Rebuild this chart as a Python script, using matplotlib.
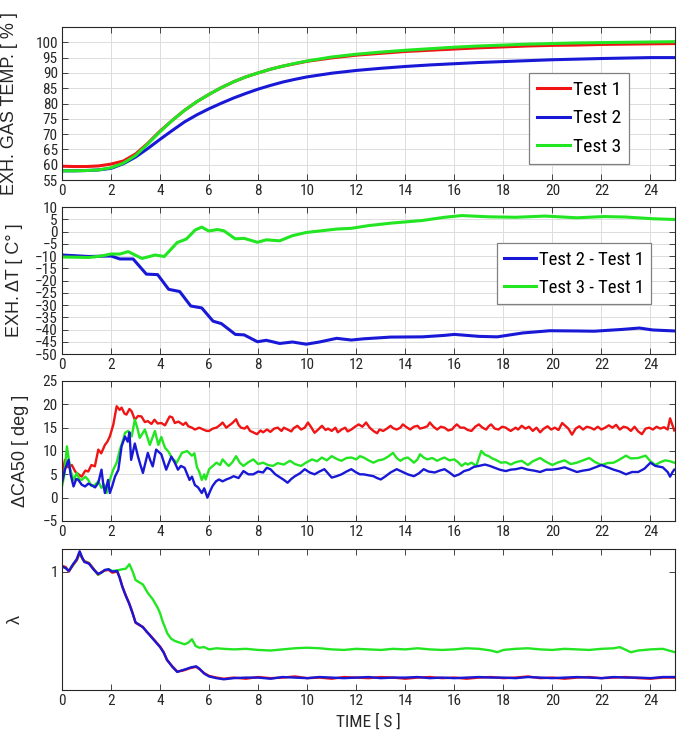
import numpy as np
import matplotlib
matplotlib.use('Agg')
import matplotlib.pyplot as plt

plt.rcParams['font.family'] = ['Liberation Sans Narrow', 'Roboto Condensed', 'Liberation Sans', 'DejaVu Sans']

# ---------------- data ----------------
x_ticks = [0, 2, 4, 6, 8, 10, 12, 14, 16, 18, 20, 22, 24]

# Panel 1: exhaust gas temperature [%]
t_temp = [0, 0.5, 1, 1.5, 2, 2.5, 3, 3.5, 4, 4.5, 5, 5.5, 6, 6.5, 7, 7.5, 8, 8.5, 9, 9.5,
          10, 11, 12, 13, 14, 15, 16, 17, 18, 19, 20, 21, 22, 23, 24, 25]
temp_test1 = [59.5, 59.4, 59.4, 59.6, 60.2, 61.2, 63.5, 67.0, 71.0, 74.5, 77.8, 80.6, 83.0, 85.2, 87.1, 88.7,
              90.0, 91.2, 92.2, 93.0, 93.8, 94.9, 95.8, 96.4, 97.0, 97.4, 97.8, 98.2, 98.5, 98.8, 99.0, 99.1,
              99.3, 99.4, 99.5, 99.6]
temp_test2 = [58.0, 58.0, 58.1, 58.3, 58.8, 60.3, 62.5, 65.3, 68.3, 71.2, 74.0, 76.3, 78.3, 80.1, 81.8, 83.3,
              84.7, 85.9, 87.0, 87.9, 88.7, 89.9, 90.8, 91.5, 92.1, 92.6, 93.0, 93.4, 93.7, 94.0, 94.3, 94.5,
              94.7, 94.85, 95.0, 95.0]
temp_test3 = [58.0, 58.0, 58.1, 58.3, 59.0, 60.5, 63.0, 66.8, 70.8, 74.5, 77.8, 80.6, 83.0, 85.2, 87.1, 88.7,
              90.0, 91.2, 92.2, 93.1, 93.9, 95.2, 96.1, 96.8, 97.4, 97.9, 98.4, 98.8, 99.1, 99.4, 99.6, 99.8,
              99.9, 100.0, 100.1, 100.2]

# Panel 2: exhaust delta T [C]
t_dT2 = [0, 1.1, 2.0, 2.36, 2.9, 3.44, 3.9, 4.35, 4.8, 5.25, 5.7, 6.16, 6.5, 7.07, 7.43, 7.97, 8.33, 8.88,
         9.4, 9.96, 10.5, 11.2, 11.8, 12.3, 13.4, 14.7, 15.6, 16.0, 17.0, 17.75, 18.8, 19.9, 21.0, 21.7,
         22.8, 23.55, 24.1, 25.0]
dT_2minus1 = [-9.6, -10.2, -10.0, -11.2, -11.2, -17.4, -17.6, -23.6, -24.5, -30.4, -31.2, -36.6, -37.6,
              -42.0, -42.2, -45.0, -44.4, -45.7, -45.1, -46.0, -45.1, -43.6, -44.3, -43.8, -43.1, -43.0,
              -42.4, -42.0, -42.8, -43.0, -41.4, -40.5, -40.6, -40.7, -40.0, -39.4, -40.2, -40.6]
t_dT3 = [0, 1.1, 1.6, 2.0, 2.36, 2.7, 3.26, 3.8, 4.17, 4.7, 5.07, 5.43, 5.7, 5.98, 6.34, 6.6, 7.07, 7.43,
         7.97, 8.33, 8.88, 9.4, 9.96, 10.5, 11.2, 11.8, 12.5, 13.4, 14.7, 15.6, 16.3, 17.4, 18.5, 19.7,
         21.0, 22.1, 23.0, 24.1, 25.0]
dT_3minus1 = [-10.4, -10.6, -10.0, -9.2, -9.2, -8.2, -11.0, -9.6, -10.2, -4.5, -3.1, 0.6, 1.8, 0.2, 0.8,
              0.3, -3.0, -2.8, -4.4, -3.4, -3.8, -1.7, -0.4, 0.2, 1.0, 1.3, 2.4, 3.4, 4.5, 5.8, 6.5, 6.0,
              5.8, 6.3, 5.6, 6.1, 5.9, 5.2, 4.9]

# Panel 3: delta CA50 [deg], (time, value) readings
ca50_test1 = [(0, 4.5), (0.12, 8.1), (0.25, 6.5), (0.4, 7.0), (0.55, 5.5), (0.8, 4.5), (0.95, 5.8), (1.07, 5.6),
              (1.2, 7.0), (1.34, 6.7), (1.48, 10.3), (1.6, 9.5), (1.75, 11.3), (1.85, 12.0), (1.95, 13.1),
              (2.09, 15.6), (2.23, 19.6), (2.35, 18.8), (2.43, 19.3), (2.55, 18.0), (2.63, 17.8), (2.75, 19.0),
              (2.84, 18.5), (2.97, 16.7), (3.1, 17.5), (3.24, 17.4), (3.38, 16.2), (3.5, 16.4), (3.65, 15.8),
              (3.77, 16.7), (3.9, 15.9), (4.05, 16.0), (4.2, 15.5), (4.39, 17.4), (4.5, 17.2), (4.6, 16.0),
              (4.75, 16.3), (4.94, 15.6), (5.05, 16.1), (5.15, 15.3), (5.3, 15.0), (5.42, 14.6), (5.6, 15.0),
              (5.76, 14.6), (5.9, 14.3), (6.0, 14.3), (6.15, 14.8), (6.3, 15.0), (6.45, 15.6), (6.55, 16.1),
              (6.7, 15.0), (6.8, 15.4), (6.95, 16.0), (7.1, 16.8), (7.2, 15.6), (7.3, 15.0), (7.45, 14.8),
              (7.55, 15.3), (7.67, 14.3), (7.8, 14.0), (7.95, 13.6), (8.1, 14.4), (8.2, 14.0), (8.36, 14.6),
              (8.5, 14.1), (8.65, 14.8), (8.8, 15.0), (8.95, 14.3), (9.05, 15.0), (9.2, 14.6), (9.35, 14.2),
              (9.45, 14.9), (9.6, 15.4), (9.75, 14.6), (9.9, 15.0), (10.03, 16.1), (10.15, 15.2), (10.3, 13.9),
              (10.45, 14.6), (10.6, 15.4), (10.75, 14.5), (10.85, 14.8), (11.0, 14.3), (11.15, 15.0),
              (11.25, 14.0), (11.4, 14.6), (11.55, 15.0), (11.65, 14.2), (11.8, 14.6), (11.95, 15.2),
              (12.1, 15.7), (12.25, 15.2), (12.4, 16.1), (12.55, 15.0), (12.7, 14.3), (12.85, 13.8),
              (12.95, 14.6), (13.1, 14.3), (13.25, 14.8), (13.4, 15.4), (13.5, 14.9), (13.65, 14.6),
              (13.8, 15.0), (13.9, 15.7), (14.05, 15.1), (14.2, 14.6), (14.35, 15.2), (14.5, 15.4),
              (14.6, 14.8), (14.75, 15.0), (14.9, 15.3), (15.0, 16.1), (15.15, 15.2), (15.3, 14.6),
              (15.45, 15.2), (15.6, 15.0), (15.75, 14.4), (15.9, 14.6), (16.0, 15.2), (16.1, 15.7),
              (16.25, 15.0), (16.4, 15.0), (16.55, 14.5), (16.7, 14.3), (16.85, 15.2), (17.0, 15.7),
              (17.15, 15.0), (17.3, 14.6), (17.4, 15.3), (17.5, 15.7), (17.65, 14.8), (17.8, 14.6),
              (17.95, 15.2), (18.1, 15.0), (18.2, 14.6), (18.3, 14.3), (18.5, 15.0), (18.6, 14.6),
              (18.75, 15.4), (18.9, 14.8), (19.05, 15.2), (19.2, 14.3), (19.35, 15.0), (19.5, 14.0),
              (19.65, 14.8), (19.8, 15.3), (19.95, 14.6), (20.1, 15.0), (20.25, 14.5), (20.4, 16.0),
              (20.5, 15.5), (20.65, 14.8), (20.8, 13.5), (20.95, 14.8), (21.1, 15.3), (21.25, 14.6),
              (21.4, 15.2), (21.55, 15.0), (21.7, 14.6), (21.85, 15.2), (22.0, 14.6), (22.15, 15.0),
              (22.3, 15.5), (22.45, 15.0), (22.6, 15.6), (22.75, 14.6), (22.9, 15.2), (23.05, 15.0),
              (23.2, 14.3), (23.35, 15.2), (23.5, 14.2), (23.65, 13.6), (23.8, 14.8), (23.95, 15.0),
              (24.1, 14.6), (24.25, 15.2), (24.4, 14.8), (24.55, 15.1), (24.7, 14.6), (24.8, 17.0),
              (24.9, 15.5), (24.97, 14.4)]
ca50_test2 = [(0, 3.2), (0.12, 6.0), (0.27, 8.1), (0.35, 5.0), (0.47, 2.4), (0.58, 4.0), (0.67, 3.8), (0.8, 2.8),
              (0.94, 2.4), (1.07, 3.0), (1.2, 2.7), (1.35, 2.2), (1.48, 3.2), (1.61, 6.0), (1.68, 3.0),
              (1.75, 1.0), (1.88, 3.8), (1.95, 1.0), (2.05, 2.5), (2.16, 4.5), (2.3, 6.0), (2.43, 11.0),
              (2.57, 13.1), (2.68, 12.0), (2.75, 14.0), (2.82, 8.1), (2.97, 11.6), (3.1, 8.8), (3.2, 7.0),
              (3.3, 5.3), (3.5, 9.6), (3.6, 8.0), (3.7, 6.7), (3.84, 10.3), (4.05, 9.3), (4.25, 6.0),
              (4.46, 8.8), (4.6, 7.5), (4.73, 6.0), (4.85, 6.8), (5.0, 6.4), (5.2, 3.8), (5.3, 4.5),
              (5.42, 2.7), (5.55, 2.2), (5.7, 1.0), (5.8, 2.0), (5.93, 0.0), (6.05, 1.5), (6.14, 2.5),
              (6.28, 3.5), (6.4, 3.9), (6.55, 3.5), (6.7, 3.9), (6.85, 4.2), (7.0, 4.6), (7.2, 4.2),
              (7.4, 5.7), (7.6, 5.0), (7.8, 5.0), (8.0, 5.6), (8.2, 5.4), (8.35, 6.4), (8.5, 6.1),
              (8.7, 5.0), (8.9, 4.3), (9.05, 3.8), (9.2, 3.2), (9.35, 4.0), (9.5, 4.6), (9.7, 5.2),
              (9.9, 6.1), (10.1, 5.4), (10.3, 5.0), (10.5, 5.6), (10.7, 6.1), (10.85, 5.2), (11.0, 4.3),
              (11.2, 4.6), (11.4, 5.0), (11.6, 5.6), (11.8, 6.1), (12.0, 5.4), (12.15, 5.0), (12.3, 5.0),
              (12.5, 4.8), (12.7, 4.6), (12.85, 4.2), (13.0, 3.9), (13.2, 4.6), (13.4, 5.4), (13.65, 6.1),
              (13.85, 5.6), (14.1, 5.0), (14.35, 4.6), (14.55, 5.2), (14.75, 6.1), (14.95, 5.6),
              (15.2, 5.4), (15.4, 5.8), (15.6, 6.1), (15.8, 5.4), (16.0, 4.6), (16.2, 5.0), (16.4, 5.7),
              (16.6, 6.0), (16.8, 6.6), (17.0, 6.8), (17.25, 7.1), (17.45, 6.8), (17.65, 6.4), (17.85, 6.0),
              (18.1, 5.7), (18.3, 6.0), (18.5, 6.1), (18.75, 6.4), (19.0, 6.0), (19.25, 5.8), (19.5, 5.5),
              (19.75, 6.0), (20.0, 6.0), (20.25, 6.2), (20.5, 6.5), (20.75, 6.0), (21.0, 5.5), (21.25, 5.8),
              (21.5, 6.0), (21.75, 6.5), (22.0, 7.0), (22.25, 6.5), (22.5, 6.0), (22.75, 5.6), (23.0, 5.0),
              (23.25, 5.5), (23.5, 5.5), (23.75, 6.2), (24.0, 7.5), (24.2, 6.8), (24.5, 6.5), (24.7, 5.5),
              (24.8, 4.5), (24.9, 5.5), (24.97, 6.0)]
ca50_test3 = [(0, 2.4), (0.1, 5.0), (0.2, 11.0), (0.27, 8.5), (0.34, 6.0), (0.47, 3.8), (0.61, 5.3), (0.7, 4.0),
              (0.8, 3.8), (0.95, 4.5), (1.07, 3.8), (1.2, 2.5), (1.34, 2.7), (1.48, 3.5), (1.61, 2.1),
              (1.72, 2.8), (1.82, 1.0), (1.95, 3.8), (2.09, 6.0), (2.23, 7.5), (2.36, 10.3), (2.5, 12.5),
              (2.57, 13.9), (2.7, 14.3), (2.84, 13.1), (2.97, 16.7), (3.07, 15.0), (3.17, 12.8), (3.38, 14.6),
              (3.48, 13.0), (3.58, 11.3), (3.79, 14.3), (3.93, 11.3), (4.05, 13.0), (4.2, 10.7), (4.35, 9.8),
              (4.48, 8.5), (4.68, 7.5), (4.89, 9.6), (5.1, 10.0), (5.3, 9.0), (5.4, 9.5), (5.5, 6.6),
              (5.6, 5.5), (5.7, 3.8), (5.8, 5.0), (5.86, 3.9), (6.0, 6.1), (6.15, 6.8), (6.3, 7.5),
              (6.45, 7.0), (6.55, 8.2), (6.7, 7.3), (6.8, 6.8), (6.95, 7.6), (7.1, 8.9), (7.25, 7.5),
              (7.4, 6.8), (7.6, 7.6), (7.8, 8.2), (8.0, 7.2), (8.2, 7.5), (8.4, 7.0), (8.6, 6.8), (8.8, 7.4),
              (9.05, 7.1), (9.2, 7.6), (9.3, 7.9), (9.5, 7.2), (9.75, 6.8), (9.95, 7.5), (10.2, 8.2),
              (10.4, 7.8), (10.6, 8.6), (10.8, 8.0), (11.0, 8.9), (11.2, 8.3), (11.4, 7.9), (11.6, 8.5),
              (11.8, 8.6), (12.0, 8.2), (12.15, 8.9), (12.3, 8.6), (12.5, 8.0), (12.7, 7.5), (12.9, 8.0),
              (13.1, 8.2), (13.3, 8.8), (13.5, 9.6), (13.65, 8.5), (13.8, 7.9), (13.95, 8.4), (14.1, 8.6),
              (14.25, 8.0), (14.35, 7.5), (14.5, 8.2), (14.6, 9.3), (14.75, 8.6), (14.9, 8.2), (15.1, 8.5),
              (15.3, 7.9), (15.45, 8.3), (15.6, 8.6), (15.8, 8.0), (16.0, 8.2), (16.15, 7.6), (16.3, 6.8),
              (16.45, 7.4), (16.55, 7.1), (16.7, 7.5), (16.9, 6.8), (17.0, 8.5), (17.1, 10.0), (17.25, 9.2),
              (17.4, 8.9), (17.55, 8.4), (17.65, 8.2), (17.8, 7.8), (17.9, 7.5), (18.1, 7.6), (18.3, 7.1),
              (18.5, 7.6), (18.75, 7.9), (19.0, 7.0), (19.2, 7.8), (19.5, 8.5), (19.7, 7.8), (20.0, 7.0),
              (20.2, 7.5), (20.5, 8.0), (20.75, 7.2), (21.0, 7.5), (21.25, 8.0), (21.5, 8.5), (21.75, 7.6),
              (22.0, 7.0), (22.25, 7.4), (22.5, 7.5), (22.75, 8.2), (23.0, 9.0), (23.2, 8.4), (23.5, 8.5),
              (23.8, 9.0), (24.0, 7.8), (24.2, 7.0), (24.4, 7.6), (24.6, 8.0), (24.8, 7.8), (24.97, 7.5)]

# Panel 4: lambda, (time, value) readings
lam_test1 = [(0, 1.010), (0.15, 1.008), (0.28, 1.000), (0.45, 1.012), (0.6, 1.020), (0.72, 1.034), (0.82, 1.024),
             (0.91, 1.018), (1.1, 1.015), (1.3, 1.004), (1.47, 0.995), (1.6, 0.999), (1.75, 1.002), (1.9, 1.003),
             (2.05, 0.998), (2.25, 1.000), (2.35, 0.990), (2.46, 0.974), (2.6, 0.958), (2.74, 0.944),
             (2.87, 0.928), (3.0, 0.909), (3.15, 0.905), (3.3, 0.902), (3.45, 0.893), (3.58, 0.888),
             (3.8, 0.877), (4.0, 0.867), (4.15, 0.857), (4.28, 0.843), (4.5, 0.832), (4.7, 0.823),
             (4.9, 0.824), (5.05, 0.826), (5.25, 0.829), (5.47, 0.831), (5.6, 0.827), (5.8, 0.820),
             (6.0, 0.815), (6.3, 0.812), (6.6, 0.810), (7.0, 0.812), (7.5, 0.810), (8.0, 0.813), (8.5, 0.811),
             (9.0, 0.812), (9.5, 0.814), (10.0, 0.811), (10.5, 0.812), (11.0, 0.810), (11.5, 0.813),
             (12.0, 0.812), (12.5, 0.811), (13.0, 0.813), (13.5, 0.812), (14.0, 0.810), (14.5, 0.812),
             (15.0, 0.813), (15.5, 0.811), (16.0, 0.812), (16.5, 0.810), (17.0, 0.812), (17.5, 0.813),
             (18.0, 0.811), (18.5, 0.812), (19.0, 0.814), (19.5, 0.811), (20.0, 0.812), (20.5, 0.810),
             (21.0, 0.812), (21.5, 0.813), (22.0, 0.811), (22.5, 0.812), (23.0, 0.813), (23.5, 0.811),
             (24.0, 0.810), (24.5, 0.812), (25.0, 0.812)]
lam_test2 = [(0, 1.009), (0.15, 1.006), (0.28, 1.001), (0.45, 1.013), (0.6, 1.022), (0.72, 1.036), (0.82, 1.025),
             (0.91, 1.017), (1.1, 1.014), (1.3, 1.003), (1.47, 0.996), (1.6, 0.998), (1.75, 1.003), (1.9, 1.004),
             (2.05, 1.000), (2.25, 1.001), (2.35, 0.989), (2.46, 0.973), (2.6, 0.957), (2.74, 0.943),
             (2.87, 0.927), (3.0, 0.910), (3.15, 0.906), (3.3, 0.901), (3.45, 0.894), (3.58, 0.887),
             (3.8, 0.876), (4.0, 0.866), (4.15, 0.856), (4.28, 0.844), (4.5, 0.831), (4.7, 0.822),
             (4.9, 0.825), (5.05, 0.827), (5.25, 0.830), (5.47, 0.832), (5.6, 0.828), (5.8, 0.819),
             (6.0, 0.814), (6.3, 0.811), (6.6, 0.809), (7.0, 0.811), (7.5, 0.812), (8.0, 0.812), (8.5, 0.810),
             (9.0, 0.813), (9.5, 0.812), (10.0, 0.811), (10.5, 0.813), (11.0, 0.812), (11.5, 0.811),
             (12.0, 0.812), (12.5, 0.813), (13.0, 0.811), (13.5, 0.812), (14.0, 0.812), (14.5, 0.813),
             (15.0, 0.811), (15.5, 0.812), (16.0, 0.811), (16.5, 0.812), (17.0, 0.813), (17.5, 0.812),
             (18.0, 0.812), (18.5, 0.811), (19.0, 0.813), (19.5, 0.812), (20.0, 0.811), (20.5, 0.812),
             (21.0, 0.813), (21.5, 0.812), (22.0, 0.811), (22.5, 0.813), (23.0, 0.812), (23.5, 0.812),
             (24.0, 0.811), (24.5, 0.813), (25.0, 0.813)]
lam_test3 = [(0, 1.010), (0.15, 1.007), (0.28, 1.001), (0.45, 1.011), (0.6, 1.020), (0.72, 1.032), (0.82, 1.024),
             (0.91, 1.019), (1.1, 1.015), (1.3, 1.004), (1.47, 0.994), (1.6, 0.998), (1.75, 1.002), (1.9, 1.004),
             (2.05, 1.001), (2.25, 1.002), (2.45, 1.004), (2.6, 1.005), (2.75, 1.013), (2.9, 0.998),
             (3.0, 0.985), (3.15, 0.981), (3.3, 0.977), (3.5, 0.962), (3.7, 0.951), (3.9, 0.936),
             (4.0, 0.926), (4.1, 0.912), (4.3, 0.890), (4.45, 0.881), (4.6, 0.877), (4.8, 0.874),
             (5.0, 0.871), (5.15, 0.874), (5.3, 0.880), (5.45, 0.868), (5.6, 0.865), (5.8, 0.866),
             (6.0, 0.862), (6.3, 0.864), (6.6, 0.863), (7.0, 0.862), (7.5, 0.863), (8.0, 0.861), (8.5, 0.860),
             (9.0, 0.862), (9.5, 0.864), (10.0, 0.865), (10.5, 0.864), (11.0, 0.862), (11.5, 0.861),
             (12.0, 0.863), (12.5, 0.862), (13.0, 0.861), (13.5, 0.863), (14.0, 0.862), (14.5, 0.864),
             (15.0, 0.862), (15.5, 0.861), (16.0, 0.862), (16.5, 0.864), (17.0, 0.863), (17.5, 0.860),
             (17.75, 0.857), (18.0, 0.861), (18.5, 0.863), (19.0, 0.864), (19.5, 0.862), (20.0, 0.861),
             (20.5, 0.863), (21.0, 0.862), (21.5, 0.861), (22.0, 0.863), (22.5, 0.864), (22.75, 0.866),
             (23.2, 0.857), (23.5, 0.860), (24.0, 0.862), (24.5, 0.863), (25.0, 0.857)]

labels_temp = ['Test 1', 'Test 2', 'Test 3']
labels_dT = ['Test 2 - Test 1', 'Test 3 - Test 1']

# ---------------- style ----------------
RED = '#f01414'
BLUE = '#1818d6'
GREEN = '#22e622'
TXT = '#262626'
W, H = 681, 744


def axpos(top, bottom, left=62, right=675):
    return [left / W, 1 - bottom / H, (right - left) / W, (bottom - top) / H]


def style(ax, grid=True):
    ax.set_xlim(0, 25)
    ax.set_xticks(x_ticks)
    ax.tick_params(direction='in', top=True, right=True, length=4, width=0.6,
                   colors=TXT, labelsize=11, pad=3)
    for s in ax.spines.values():
        s.set_color(TXT)
        s.set_linewidth(0.8)
    if grid:
        ax.grid(True, color='#dcdcdc', lw=0.7)
    ax.set_axisbelow(True)


def ylab(ax, text, xfrac):
    ax.set_ylabel(text, fontsize=13, color=TXT, family=['Liberation Sans', 'DejaVu Sans'])
    ax.yaxis.set_label_coords(xfrac, 0.5)


def xy(pairs):
    arr = np.array(pairs, dtype=float)
    return arr[:, 0], arr[:, 1]


def legend(ax, anchor, fs):
    lg = ax.legend(loc='upper left', bbox_to_anchor=anchor, fontsize=fs, frameon=True,
                   fancybox=False, edgecolor='#808080', framealpha=1, handlelength=1.7,
                   handletextpad=0.15, borderpad=0.4, labelspacing=0.55, borderaxespad=0)
    lg.get_frame().set_linewidth(0.9)
    return lg


fig = plt.figure(figsize=(6.81, 7.44), dpi=100)

# Panel 1
ax1 = fig.add_axes(axpos(27, 180))
ax1.plot(t_temp, temp_test1, color=RED, lw=2.2, label=labels_temp[0])
ax1.plot(t_temp, temp_test2, color=BLUE, lw=2.2, label=labels_temp[1])
ax1.plot(t_temp, temp_test3, color=GREEN, lw=2.2, label=labels_temp[2])
ax1.set_ylim(55, 105)
ax1.set_yticks(range(55, 101, 5))
style(ax1)
ylab(ax1, 'EXH. GAS TEMP. [ % ]', -0.072)
legend(ax1, (0.762, 0.70), 14)

# Panel 2
ax2 = fig.add_axes(axpos(207, 354))
ax2.plot(t_dT2, dT_2minus1, color=BLUE, lw=2.2, label=labels_dT[0])
ax2.plot(t_dT3, dT_3minus1, color=GREEN, lw=2.2, label=labels_dT[1])
ax2.set_ylim(-50, 10)
ax2.set_yticks(range(-50, 11, 5))
style(ax2)
ylab(ax2, 'EXH. \u0394T [ C\u00b0 ]', -0.064)
legend(ax2, (0.709, 0.755), 13.5)

# Panel 3
ax3 = fig.add_axes(axpos(381, 521))
for pairs, c in [(ca50_test1, RED), (ca50_test3, GREEN), (ca50_test2, BLUE)]:
    tx, v = xy(pairs)
    ax3.plot(tx, v, color=c, lw=1.7)
ax3.set_ylim(-5, 25)
ax3.set_yticks(range(-5, 26, 5))
style(ax3)
ylab(ax3, '\u0394CA50 [ deg ]', -0.054)

# Panel 4
ax4 = fig.add_axes(axpos(549, 690))
for pairs, c in [(lam_test3, GREEN), (lam_test1, RED), (lam_test2, BLUE)]:
    tx, v = xy(pairs)
    ax4.plot(tx, v, color=c, lw=1.7)
ax4.set_ylim(0.79, 1.04)
ax4.set_yticks([1])
style(ax4, grid=False)
ylab(ax4, '\u03bb', -0.062)
ax4.set_xlabel('TIME [ S ]', fontsize=12.5, color=TXT)

fig.savefig('out.png', dpi=100)
